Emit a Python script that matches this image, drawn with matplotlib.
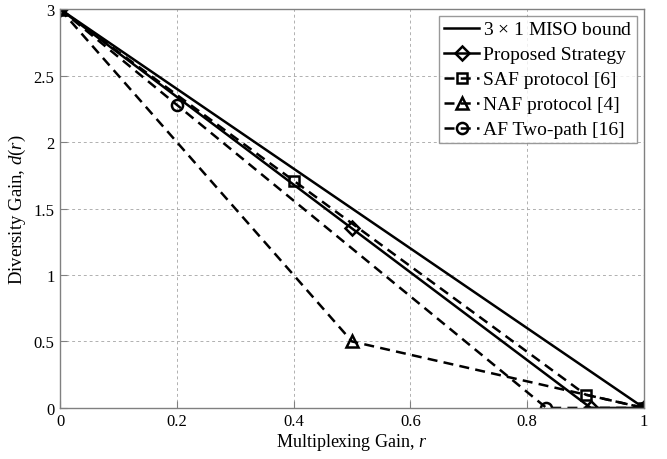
import matplotlib
matplotlib.use("Agg")
import matplotlib.pyplot as plt

plt.rcParams['font.family'] = ['Liberation Serif', 'DejaVu Serif']
plt.rcParams['mathtext.fontset'] = 'custom'
plt.rcParams['mathtext.rm'] = 'Liberation Serif'
plt.rcParams['mathtext.it'] = 'Liberation Serif:italic'

# Data
miso_r = [0, 1]
miso_d = [3, 0]
prop_r = [0, 0.5, 0.909, 1]
prop_d = [3, 1.35, 0, 0]
saf_r = [0, 0.4, 0.9, 1]
saf_d = [3, 1.71, 0.1, 0]
naf_r = [0, 0.5, 1]
naf_d = [3, 0.5, 0]
af_r = [0, 0.2, 0.833, 1]
af_d = [3, 2.28, 0, 0]

labels = ['3 $\\times$ 1 MISO bound', 'Proposed Strategy', 'SAF protocol [6]',
          'NAF protocol [4]', 'AF Two-path [16]']
xticks = [0, 0.2, 0.4, 0.6, 0.8, 1]
yticks = [0, 0.5, 1, 1.5, 2, 2.5, 3]

fig = plt.figure(figsize=(6.67, 4.6), dpi=100)
ax = fig.add_axes([0.09, 0.111, 0.8755, 0.867])

dash = (0, (4, 2.5))
lw = 1.8
ms = 8
mew = 1.8
ax.plot(miso_r, miso_d, color='black', lw=lw, label=labels[0])
ax.plot(prop_r, prop_d, color='black', lw=lw, marker='D', ms=7, mfc='none', mew=mew, label=labels[1])
ax.plot(saf_r, saf_d, color='black', lw=lw, ls=dash, marker='s', ms=7, mfc='none', mew=mew, label=labels[2])
ax.plot(naf_r, naf_d, color='black', lw=lw, ls=dash, marker='^', ms=ms, mfc='none', mew=mew, label=labels[3])
ax.plot(af_r, af_d, color='black', lw=lw, ls=dash, marker='o', ms=ms, mfc='none', mew=mew, label=labels[4])

ax.set_xlim(0, 1)
ax.set_ylim(0, 3)
ax.set_xticks(xticks)
ax.set_xticklabels(['0', '0.2', '0.4', '0.6', '0.8', '1'])
ax.set_yticks(yticks)
ax.set_yticklabels(['0', '0.5', '1', '1.5', '2', '2.5', '3'])
ax.grid(True, color='#b0b0b0', ls=(0, (3, 3)), lw=0.7)
for s in ax.spines.values():
    s.set_color('#808080')
    s.set_linewidth(1.0)
ax.tick_params(direction='in', length=5, color='#808080', labelsize=12, labelcolor='black', pad=4)
ax.set_xlabel('Multiplexing Gain, $r$', fontsize=13, labelpad=1)
ax.set_ylabel('Diversity Gain, $d(r)$', fontsize=13.5, labelpad=4)

leg = ax.legend(loc='upper right', fontsize=14, frameon=True, fancybox=False,
                edgecolor='#808080', handlelength=1.8, handletextpad=0.2,
                borderpad=0.25, labelspacing=0.38, borderaxespad=0.35)
leg.get_frame().set_linewidth(1.0)

fig.savefig('out.png', dpi=100)
